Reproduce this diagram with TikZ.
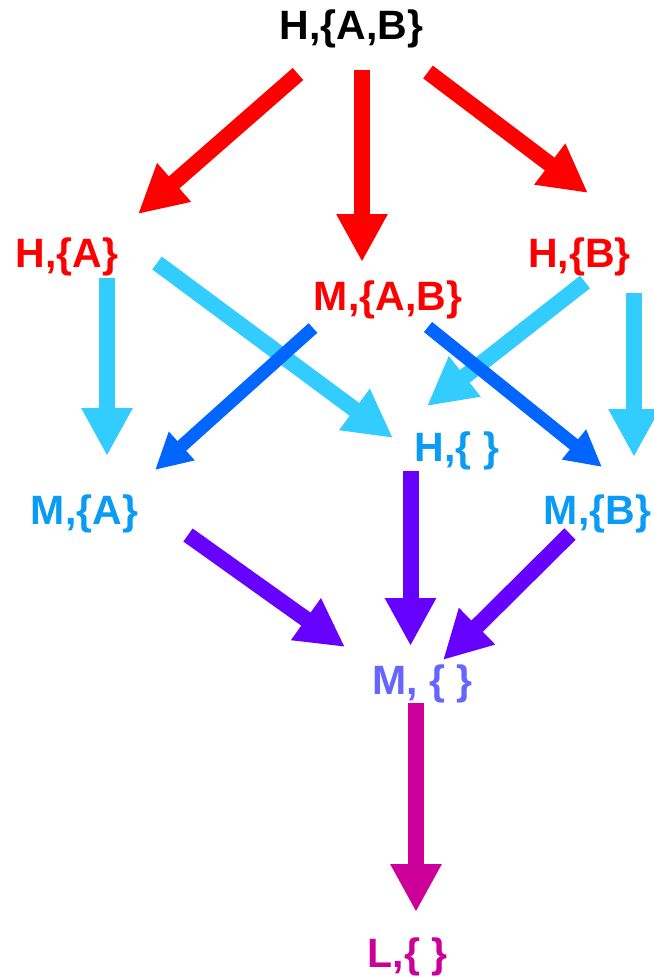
\documentclass[tikz,border=0pt]{standalone}
\usepackage{fontspec}
\setmainfont{Liberation Sans}
\usetikzlibrary{arrows.meta}

\definecolor{stRed}{HTML}{FF0000}
\definecolor{stSky}{HTML}{33CCFF}
\definecolor{stBlue}{HTML}{0066FF}
\definecolor{stViolet}{HTML}{6600FF}
\definecolor{stMagenta}{HTML}{CC0099}
\definecolor{txtBlue}{HTML}{0A9BF5}
\definecolor{txtLilac}{HTML}{6666FF}

\tikzset{
  state/.style={anchor=base, inner sep=0pt, font=\fontsize{20.5}{24}\selectfont\bfseries},
  fat/.style={line width=8pt, -{Triangle[length=24pt,width=24pt]}},
  slim/.style={line width=6.5pt, -{Triangle[length=18pt,width=18pt]}},
}

\begin{document}
\begin{tikzpicture}[x=0.5pt, y=-0.5pt]
        \useasboundingbox (0,0) rectangle (653,979);

        % States
        \node[state] (T) at (351.5,40) {H,\{A,B\}};
        \node[state, text=stRed] (HA) at (67,267) {H,\{A\}};
        \node[state, text=stRed] (MAB) at (388,310) {M,\{A,B\}};
        \node[state, text=stRed] (HB) at (579.5,267) {H,\{B\}};
        \node[state, text=txtBlue] (H0) at (457,461) {H,\{ \}};
        \node[state, text=txtBlue] (MA) at (84.5,524) {M,\{A\}};
        \node[state, text=txtBlue] (MB) at (597.5,524) {M,\{B\}};
        \node[state, text=txtLilac] (M0) at (422.5,694) {M, \{ \}};
        \node[state, text=stMagenta] (L0) at (407.5,967) {L,\{ \}};

        % First step down
        \draw[fat, stRed] ([shift={(-53.5,34)}]T.base) -- ([shift={(71,-53)}]HA.base);
        \draw[fat, stRed] ([shift={(10.5,30)}]T.base) -- ([shift={(-26,-48)}]MAB.base);
        \draw[fat, stRed] ([shift={(76.5,32)}]T.base) -- ([shift={(8.5,-74)}]HB.base);

        % Second step
        \draw[fat, stSky] ([shift={(40,11)}]HA.base) -- ([shift={(22.5,-68)}]MA.base);
        \draw[fat, stSky] ([shift={(90,-4)}]HA.base) -- ([shift={(-64,-23)}]H0.base);
        \draw[fat, stSky] ([shift={(5.5,15)}]HB.base) -- ([shift={(-30,-55)}]H0.base);
        \draw[fat, stSky] ([shift={(54.5,26)}]HB.base) -- ([shift={(36.5,-67)}]MB.base);
        \draw[slim, stBlue] ([shift={(-75,18)}]MAB.base) -- ([shift={(70.5,-54)}]MA.base);
        \draw[slim, stBlue] ([shift={(40,17)}]MAB.base) -- ([shift={(4.5,-57)}]MB.base);

        % Third step
        \draw[fat, stViolet] ([shift={(103.5,11)}]MA.base) -- ([shift={(-77.5,-47)}]M0.base);
        \draw[fat, stViolet] ([shift={(-46.5,10)}]H0.base) -- ([shift={(-12,-48)}]M0.base);
        \draw[fat, stViolet] ([shift={(-27.5,10)}]MB.base) -- ([shift={(20.5,-34)}]M0.base);

        % Last step
        \draw[fat, stMagenta] ([shift={(-6.5,9)}]M0.base) -- ([shift={(8.5,-55)}]L0.base);
\end{tikzpicture}
\end{document}
